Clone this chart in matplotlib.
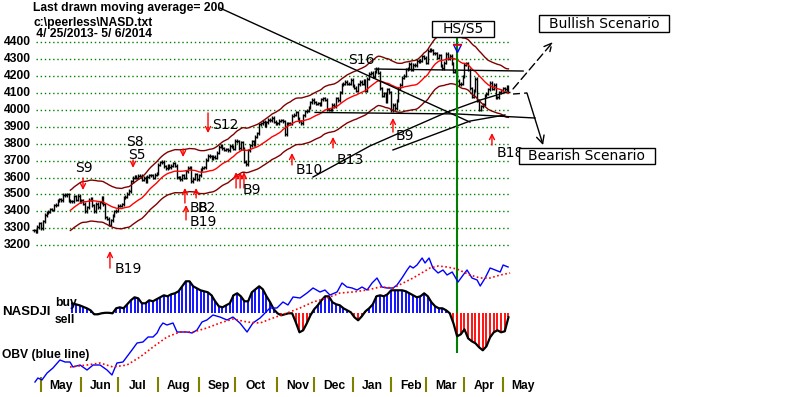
import numpy as np
import pandas as pd
import matplotlib
matplotlib.use("Agg")
import matplotlib.pyplot as plt
from matplotlib.patches import Rectangle

# ---------------- data ----------------
close_2013_04 = [3289, 3279, 3307, 3329]
close_2013_05 = [3299, 3340, 3378, 3392, 3396, 3413, 3410, 3436, 3438, 3462, 3471,
                 3465, 3498, 3496, 3502, 3463, 3459, 3459, 3488, 3467, 3491, 3456]
close_2013_06 = [3465, 3445, 3401, 3424, 3469, 3473, 3436, 3401, 3445, 3423, 3453,
                 3483, 3443, 3365, 3357, 3320, 3347, 3376, 3401, 3403]
close_2013_07 = [3434, 3433, 3443, 3479, 3485, 3504, 3520, 3578, 3600, 3607, 3599,
                 3611, 3611, 3587, 3600, 3579, 3605, 3613, 3613, 3599, 3616, 3626]
close_2013_08 = [3675, 3689, 3692, 3666, 3654, 3669, 3660, 3669, 3684, 3669, 3602,
                 3602, 3589, 3613, 3599, 3638, 3657, 3657, 3579, 3593, 3620, 3590]
close_2013_09 = [3612, 3649, 3658, 3660, 3706, 3729, 3725, 3715, 3722, 3717, 3746,
                 3783, 3789, 3774, 3765, 3768, 3761, 3787, 3781, 3771]
close_2013_10 = [3817, 3815, 3774, 3808, 3771, 3694, 3678, 3760, 3792, 3815, 3794,
                 3840, 3863, 3915, 3920, 3929, 3907, 3928, 3943, 3940, 3952, 3931, 3920]
close_2013_11 = [3922, 3936, 3940, 3932, 3857, 3919, 3920, 3919, 3965, 3972, 3985,
                 3949, 3932, 3921, 3969, 3991, 3994, 4017, 4044, 4059]
close_2013_12 = [4045, 4037, 4038, 4033, 4062, 4068, 4060, 4003, 4002, 4000, 4029,
                 4023, 4070, 4058, 4104, 4148, 4155, 4167, 4156, 4154, 4177]
close_2014_01 = [4143, 4132, 4113, 4153, 4165, 4156, 4175, 4114, 4183, 4215, 4219,
                 4197, 4225, 4243, 4219, 4128, 4083, 4098, 4052, 4123, 4104]
close_2014_02 = [3997, 4031, 4011, 4057, 4126, 4148, 4191, 4201, 4240, 4244, 4273,
                 4238, 4267, 4263, 4292, 4287, 4292, 4318, 4308]
close_2014_03 = [4278, 4351, 4357, 4352, 4336, 4335, 4308, 4323, 4260, 4245, 4280,
                 4333, 4307, 4319, 4276, 4226, 4234, 4173, 4151, 4155, 4199]
close_2014_04 = [4268, 4276, 4238, 4127, 4079, 4112, 4183, 4054, 4000, 4022, 4034,
                 4086, 4095, 4121, 4161, 4126, 4148, 4075, 4074, 4104, 4115]
close_2014_05 = [4127, 4123, 4138, 4108]

month_labels = ["May", "Jun", "Jul", "Aug", "Sep", "Oct", "Nov", "Dec",
                "Jan", "Feb", "Mar", "Apr", "May"]
month_start = [4, 26, 46, 68, 90, 110, 133, 153, 174, 195, 214, 235, 256]

price_ticks = [4400, 4300, 4200, 4100, 4000, 3900, 3800, 3700, 3600,
               3500, 3400, 3300, 3200]

# NASDJI indicator (every 2nd trading day from day 21)
nasdji_start, nasdji_step = 21, 2
nasdji = [10, 9, 8, 6.5, 5, 3, -1, -1, 0, 0.5,
          0.5, 0, 5, 6, 5, 9, 13, 16, 15, 10,
          10, 13, 12, 14, 16, 18, 17, 19, 20, 22,
          27, 32, 32, 27, 25, 23, 22, 21, 18, 12,
          7, 6, 8, 10, 18, 20, 17, 12, 12, 21,
          24, 27, 24, 17, 11, 4, 0, -2, -1, 0,
          0, -9, -19, -17, -10, -2, 4, 8, 13, 17,
          17, 11, 9, 8, 5, 3, 1, -4, -7, -3,
          2, 5, 9, 17, 18, 17, 19, 23, 23, 23,
          23, 22, 20, 18, 16, 17, 20, 17, 11, 7,
          5, 5, 3, 0, -10, -23, -21, -16, -25, -28,
          -30, -34, -37, -33, -24, -19, -17, -19, -18, -4]

# OBV (blue line) and its moving average (red dotted)
obv_day = [0.7, 2.3, 4.5, 7.3, 10.5, 14.3, 17.1, 19.8, 21.4, 25.3,
           29.1, 32.4, 36.2, 40, 42.7, 45.4, 48.7, 53.6, 56.4, 59.6,
           62.4, 65.1, 67.3, 68.9, 70.5, 72.7, 76, 78.2, 80.9, 83.6,
           86.4, 89.1, 91.8, 94.5, 97.8, 101.6, 105.5, 108.7, 112.5, 116.4,
           119.6, 123.5, 126.2, 128.9, 132.7, 136, 138.7, 141.5, 145.3, 149.1,
           152.4, 156.2, 158.9, 161.6, 165.5, 168.2, 170.9, 173.7, 176.4, 179.1,
           181.9, 184.6, 187.3, 190, 192.8, 196.1, 198.2, 200.9, 203.7, 205.3,
           207, 209.1, 211.9, 213.5, 215.7, 217.8, 220.6, 223.3, 225.5, 228.3,
           229.9, 231.5, 234.3, 236.4, 239.1, 241.9, 243.6, 246.3, 249, 251.8,
           254.5, 256.1, 258.8]
obv_val = [3, 7, 5, 12, 17, 25, 23, 23, 18, 20,
           15, 20, 20, 15, 10, 22, 23, 35, 42, 43,
           48, 48, 52, 58, 62, 60, 62, 53, 53, 53,
           52, 55, 63, 65, 70, 68, 65, 68, 62, 53,
           62, 67, 72, 77, 77, 83, 80, 88, 87, 92,
           97, 93, 95, 90, 93, 102, 98, 97, 95, 98,
           95, 102, 107, 98, 97, 97, 100, 107, 115, 119,
           117, 120, 127, 122, 127, 117, 112, 115, 110, 113,
           108, 103, 110, 115, 107, 105, 99, 107, 117, 115,
           113, 120, 118]
obv_ma_day = [19.8, 29.1, 36.2, 43.3, 50.9, 58, 65.1, 72.7, 79.8, 86.9,
              94.5, 101.6, 108.7, 116.4, 123.5, 130.6, 138.2, 145.3, 152.4, 160,
              167.1, 174.2, 181.9, 189, 196.1, 207, 216.2, 220.6, 225.5, 230.9,
              238, 243.6, 249, 254.5, 259.9]
obv_ma_val = [18, 20, 22, 18, 20, 28, 38, 48, 53, 53,
              57, 62, 66, 63, 62, 67, 72, 77, 83, 87,
              92, 93, 95, 98, 97, 107, 117, 119, 118, 116,
              110, 107, 107, 110, 112]

MA_LEN = 21
BAND = 0.035
HS_DAY = 231

close = np.array(close_2013_04 + close_2013_05 + close_2013_06 + close_2013_07 +
                 close_2013_08 + close_2013_09 + close_2013_10 + close_2013_11 +
                 close_2013_12 + close_2014_01 + close_2014_02 + close_2014_03 +
                 close_2014_04 + close_2014_05, dtype=float)
days = np.arange(len(close))

# ---------------- figure layout ----------------
W, H = 800, 397
fig = plt.figure(figsize=(W / 100, H / 100), dpi=100)
fig.patch.set_facecolor("white")

X_PX0, X_PPD = 33.7, 1.833        # pixel of day 0, pixels per trading day
Y_PX4400, Y_PPP = 42.3, 0.169     # pixel row of 4400, pixels per index point

def fx(x):
    return x / W

def fy(y):
    return 1 - y / H

def full_axes(ylim):
    a = fig.add_axes([0, 0, 1, 1])
    a.set_xlim(-X_PX0 / X_PPD, (W - X_PX0) / X_PPD)
    a.set_ylim(*ylim)
    a.axis("off")
    a.patch.set_alpha(0)
    return a

ax = full_axes((4400 - (H - Y_PX4400) / Y_PPP, 4400 + Y_PX4400 / Y_PPP))
axN = full_axes((-(H - 313.3), 313.3))
axO = full_axes((-12, 385))

LS = "Liberation Sans"
DV = "DejaVu Sans"

# grid lines + price labels
ax.hlines(price_ticks, 1.5, 259.5, colors="#008000", linestyles=(0, (1, 2)), lw=1)
for p in price_ticks:
    ax.text(-1.5, p, str(p), ha="right", va="center", family=LS,
            weight="bold", size=8.7)

# price bars
BAR_PAD = 9
opens = np.r_[close[0], close[:-1]]
lo = np.minimum(opens, close) - BAR_PAD
hi = np.maximum(opens, close) + BAR_PAD
ax.vlines(days, lo, hi, colors="black", lw=1)
ax.hlines(close, days, days + 0.75, colors="black", lw=1)
ax.hlines(opens, days - 0.75, days, colors="black", lw=1)

# moving average and bands
ma = pd.Series(close).rolling(MA_LEN).mean()
ax.plot(days, ma, color="#ff0000", lw=1)
ax.plot(days, ma * (1 + BAND), color="#800000", lw=1)
ax.plot(days, ma * (1 - BAND), color="#800000", lw=1)

# trend lines (hand drawn on the chart)
ax.plot([101.6, 238.0], [4603, 3928], color="black", lw=1)
ax.plot([152.4, 183.5, 225.5, 243.5, 258.2], [3603, 3787, 3987, 4058, 4106],
        color="black", lw=1)
ax.plot([196.0, 238.0, 257.1], [3763, 3934, 3970], color="black", lw=1)
ax.plot([153.5, 230.9, 273.5], [3985, 3976, 3952], color="black", lw=1)
ax.plot([186.2, 267.0], [4242, 4230], color="black", lw=1)

# scenario arrows
ax.annotate("", xy=(283.3, 4402), xytext=(261.5, 4124),
            arrowprops=dict(arrowstyle="->", color="black", lw=1, ls=(0, (6, 3)),
                            shrinkA=0, shrinkB=0, mutation_scale=14))
ax.plot([261.5, 269.1], [4094, 4100], color="black", lw=1, ls=(0, (5, 3)))
ax.annotate("", xy=(277.9, 3792), xytext=(269.1, 4100),
            arrowprops=dict(arrowstyle="->", color="black", lw=1,
                            shrinkA=0, shrinkB=0, mutation_scale=14))

# HS/S5 vertical line and marker
ax.axvline(HS_DAY, ymin=fy(352), ymax=fy(38), color="#008000", lw=1.5)
ax.plot(HS_DAY, 4366, marker="v", mfc="none", mec="#0000ff", ms=6)
ax.hlines(4384, HS_DAY - 2.5, HS_DAY + 2.5, colors="red", lw=1.2)

# signal labels
def sig(day, price, text, ha="center"):
    ax.text(day, price, text, ha=ha, va="center", family=DV, size=10)

def arrow(day, tip, tail):
    ax.annotate("", xy=(day, tip), xytext=(day, tail),
                arrowprops=dict(arrowstyle="->", color="red", lw=1,
                                shrinkA=0, shrinkB=0, mutation_scale=9))

sig(178.6, 4295, "S16")
sig(104.4, 3911, "S12")
arrow(95.1, 3863, 3982)
sig(55.3, 3812, "S8")
sig(56.4, 3735, "S5")
arrow(54.2, 3657, 3704)
sig(27.5, 3656, "S9")
arrow(26.9, 3526, 3597)
arrow(81.5, 3721, 3769)
sig(51.5, 3059, "B19")
arrow(41.6, 3165, 3064)
sig(85.3, 3420, "B8", ha="left")
sig(89.6, 3420, "B2", ha="left")
sig(92.5, 3337, "B19")
arrow(82.5, 3538, 3449)
arrow(88.6, 3538, 3479)
arrow(83.1, 3437, 3349)
for d in (110.4, 112.6, 114.7):
    arrow(d, 3632, 3538)
sig(119.1, 3526, "B9")
sig(150.2, 3644, "B10")
arrow(140.9, 3745, 3674)
sig(172.6, 3703, "B13")
arrow(163.3, 3840, 3775)
sig(202.6, 3846, "B9")
arrow(196.0, 3952, 3869)
sig(252.8, 3745, "B18", ha="left")
arrow(250.0, 3863, 3792)

# lower panel: NASDJI histogram
nx = nasdji_start + nasdji_step * np.arange(len(nasdji))
nv = np.array(nasdji, dtype=float)
axN.vlines(nx, 0, nv, colors=np.where(nv >= 0, "#0000ff", "#ff0000"), lw=1.3)
axN.plot(nx, nv, color="black", lw=1.6)

# OBV
axO.plot(obv_day, obv_val, color="#0000ff", lw=1)
axO.plot(obv_ma_day, obv_ma_val, color="#ff0000", lw=1.2, ls=(0, (1, 1.5)))

# month axis
xt = ax.get_xaxis_transform()
ax.vlines(month_start, fy(392), fy(377), colors="#808000", lw=1.5, transform=xt)
for s, lab in zip(month_start, month_labels):
    ax.text(s + 10.8, fy(386), lab, transform=xt, ha="center", va="center",
            family=LS, weight="bold", size=8.7)

# panel labels
fig.text(fx(2), fy(312), "NASDJI", ha="left", va="center", family=LS,
         weight="bold", size=9.5)
fig.text(fx(55), fy(303), "buy", ha="left", va="center", family=LS,
         weight="bold", size=8.7)
fig.text(fx(55), fy(320), "sell", ha="left", va="center", family=LS,
         weight="bold", size=8.7)
fig.text(fx(2), fy(355), "OBV (blue line)", ha="left", va="center", family=LS,
         weight="bold", size=8.7)

# header
fig.text(fx(33), fy(8), "Last drawn moving average= 200", ha="left", va="center",
         family=LS, weight="bold", size=8.7)
fig.text(fx(33), fy(23), r"c:\peerless\NASD.txt", ha="left", va="center",
         family=LS, weight="bold", size=8.7)
fig.text(fx(33), fy(34), " 4/ 25/2013- 5/ 6/2014", ha="left", va="center",
         family=LS, weight="bold", size=8.7)

# boxed labels
def box(x0, y0, x1, y1, text):
    fig.add_artist(Rectangle((fx(x0), fy(y1)), (x1 - x0) / W, (y1 - y0) / H,
                             transform=fig.transFigure, fc="white", ec="black",
                             lw=1, zorder=5))
    fig.text(fx((x0 + x1) / 2), fy((y0 + y1) / 2), text, ha="center",
             va="center", family=DV, size=10, zorder=6)

box(432, 21, 494, 37, "HS/S5")
box(539, 15, 669, 32, "Bullish Scenario")
box(519, 148, 655, 164, "Bearish Scenario")

fig.savefig("out.png", dpi=100)
